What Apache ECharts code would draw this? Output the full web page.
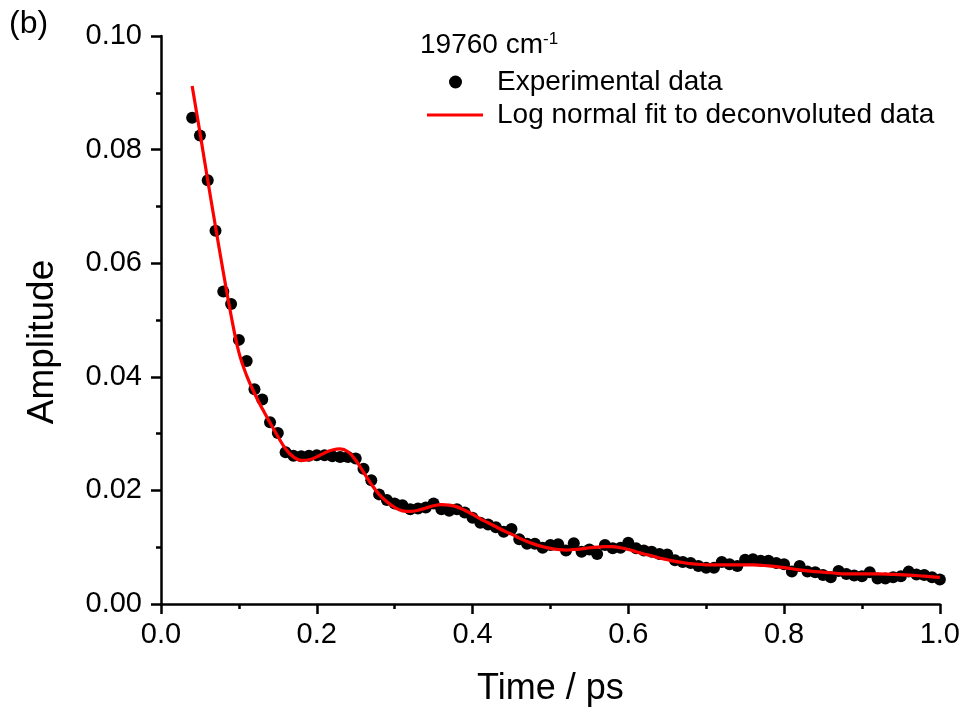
<!DOCTYPE html>
<html>
<head>
<meta charset="utf-8">
<script src="https://cdn.jsdelivr.net/npm/echarts@6/dist/echarts.min.js"></script>
<style>html,body{margin:0;padding:0;background:#fff}#c{width:963px;height:712px}</style>
</head>
<body>
<div id="c"></div>
<script>
// Experimental data (time in ps, amplitude)
const expTime = [0.04,0.05,0.06,0.07,0.08,0.09,0.10,0.11,0.12,0.13,0.14,0.15,0.16,0.17,0.18,0.19,0.20,0.21,0.22,0.23,0.24,0.25,0.26,0.27,0.28,0.29,0.30,0.31,0.32,0.33,0.34,0.35,0.36,0.37,0.38,0.39,0.40,0.41,0.42,0.43,0.44,0.45,0.46,0.47,0.48,0.49,0.50,0.51,0.52,0.53,0.54,0.55,0.56,0.57,0.58,0.59,0.60,0.61,0.62,0.63,0.64,0.65,0.66,0.67,0.68,0.69,0.70,0.71,0.72,0.73,0.74,0.75,0.76,0.77,0.78,0.79,0.80,0.81,0.82,0.83,0.84,0.85,0.86,0.87,0.88,0.89,0.90,0.91,0.92,0.93,0.94,0.95,0.96,0.97,0.98,0.99,1.00];
const expAmp = [0.0856,0.0825,0.0746,0.0657,0.0550,0.0528,0.0465,0.0428,0.0378,0.0360,0.0320,0.0301,0.0267,0.0261,0.0260,0.0261,0.0262,0.0262,0.0260,0.0259,0.0259,0.0256,0.0238,0.0218,0.0193,0.0183,0.0177,0.0174,0.0167,0.0168,0.0170,0.0177,0.0167,0.0164,0.0167,0.0161,0.0152,0.0143,0.0140,0.0135,0.0127,0.0132,0.0114,0.0106,0.0106,0.0099,0.0104,0.0105,0.0094,0.0107,0.0092,0.0096,0.0088,0.0104,0.0098,0.0099,0.0108,0.0098,0.0094,0.0092,0.0088,0.0087,0.0077,0.0074,0.0072,0.0067,0.0064,0.0064,0.0074,0.0070,0.0067,0.0078,0.0079,0.0076,0.0076,0.0072,0.0070,0.0057,0.0067,0.0057,0.0056,0.0051,0.0047,0.0058,0.0053,0.0050,0.0049,0.0056,0.0045,0.0045,0.0047,0.0049,0.0057,0.0052,0.0051,0.0047,0.0043];

// Log normal fit curve
const fitTime = [0.04,0.05,0.06,0.07,0.08,0.09,0.10,0.11,0.12,0.13,0.14,0.15,0.16,0.17,0.18,0.19,0.20,0.21,0.22,0.23,0.24,0.25,0.26,0.27,0.28,0.29,0.30,0.31,0.32,0.33,0.34,0.35,0.36,0.37,0.38,0.39,0.40,0.41,0.42,0.43,0.44,0.45,0.46,0.47,0.48,0.49,0.50,0.51,0.52,0.53,0.54,0.55,0.56,0.57,0.58,0.59,0.60,0.61,0.62,0.63,0.64,0.65,0.66,0.67,0.68,0.69,0.70,0.72,0.74,0.76,0.78,0.80,0.82,0.84,0.86,0.88,0.90,0.92,0.94,0.96,0.98,1.00];
const fitAmp = [0.0912,0.0830,0.0746,0.0664,0.0584,0.0508,0.0443,0.0402,0.0371,0.0344,0.0319,0.0295,0.0273,0.0259,0.0253,0.0254,0.0259,0.0266,0.0271,0.0273,0.0268,0.0253,0.0232,0.0211,0.0193,0.0180,0.0170,0.0164,0.0163,0.0165,0.0169,0.0173,0.0175,0.0174,0.0171,0.0165,0.0158,0.0150,0.0143,0.0136,0.0129,0.0123,0.0116,0.0110,0.0105,0.0101,0.0098,0.0096,0.0095,0.0096,0.0097,0.0099,0.0100,0.0101,0.0101,0.0099,0.0096,0.0092,0.0088,0.0085,0.0081,0.0078,0.0075,0.0073,0.0071,0.0070,0.0069,0.0069,0.0069,0.0069,0.0067,0.0064,0.0060,0.0057,0.0055,0.0053,0.0053,0.0053,0.0052,0.0051,0.0049,0.0047];

const xTicks = [0.0,0.2,0.4,0.6,0.8,1.0];
const yTicks = [0.00,0.02,0.04,0.06,0.08,0.10];

const seriesNames = ['Experimental data','Log normal fit to deconvoluted data'];
const panelLabel = '(b)';
const legendTitle = '19760 cm';
const legendSup = '-1';

const FONT = '"Liberation Sans", Arial, sans-serif';
const chart = echarts.init(document.getElementById('c'), null, {renderer:'canvas'});
const axisCommon = {
  axisLine:{show:true,onZero:false,lineStyle:{color:'#000',width:2.5}},
  axisTick:{show:true,inside:false,length:10,lineStyle:{color:'#000',width:2.5}},
  minorTick:{show:true,splitNumber:2,length:5,lineStyle:{color:'#000',width:2.5}},
  splitLine:{show:false},
  nameLocation:'middle',
  axisLabel:{fontFamily:FONT,fontSize:29,color:'#000'}
};
chart.setOption({
  animation:false,
  backgroundColor:'#fff',
  grid:{left:161,right:23,top:36,bottom:107,containLabel:false},
  xAxis:Object.assign({}, axisCommon, {
    type:'value', min:xTicks[0], max:xTicks[xTicks.length-1], interval:0.2,
    name:'Time / ps', nameGap:67,
    nameTextStyle:{fontFamily:FONT,fontSize:36,color:'#000'},
    axisLabel:Object.assign({}, axisCommon.axisLabel, {margin:16, formatter:v=>v.toFixed(1)})
  }),
  yAxis:Object.assign({}, axisCommon, {
    type:'value', min:yTicks[0], max:yTicks[yTicks.length-1], interval:0.02,
    name:'Amplitude', nameGap:100,
    nameTextStyle:{fontFamily:FONT,fontSize:37,color:'#000',padding:[0,44,0,0]},
    axisLabel:Object.assign({}, axisCommon.axisLabel, {margin:19, formatter:v=>v.toFixed(2)})
  }),
  legend:[
    {orient:'vertical', left:449, top:68, padding:0, itemWidth:13, itemHeight:13,
     textStyle:{fontFamily:FONT,fontSize:28,color:'#000',padding:[0,0,0,30]},
     data:[{name:seriesNames[0],icon:'circle'}]},
    {orient:'vertical', left:427, top:101, padding:0, itemWidth:56, itemHeight:3,
     textStyle:{fontFamily:FONT,fontSize:28,color:'#000',padding:[0,0,0,9]},
     data:[{name:seriesNames[1],icon:'rect'}]}
  ],
  graphic:[
    {type:'text',left:9,top:8,style:{text:panelLabel,fontFamily:FONT,fontSize:32,fill:'#000'}},
    {type:'text',left:420,top:31,style:{
      text:'{a|'+legendTitle+'}{s|'+legendSup+'}',
      rich:{a:{fontFamily:FONT,fontSize:28,fill:'#000',color:'#000',verticalAlign:'bottom'},
            s:{fontFamily:FONT,fontSize:17,fill:'#000',color:'#000',verticalAlign:'top'}}
    }}
  ],
  series:[
    {name:seriesNames[0],type:'scatter',symbol:'circle',symbolSize:12,
     itemStyle:{color:'#000',opacity:1},z:2,
     data:expTime.map((t,i)=>[t,expAmp[i]])},
    {name:seriesNames[1],type:'line',symbol:'none',showSymbol:false,smooth:0.4,
     lineStyle:{color:'#ff0000',width:3.2},itemStyle:{color:'#ff0000'},z:3,
     data:fitTime.map((t,i)=>[t,fitAmp[i]])}
  ]
});
</script>
</body>
</html>
